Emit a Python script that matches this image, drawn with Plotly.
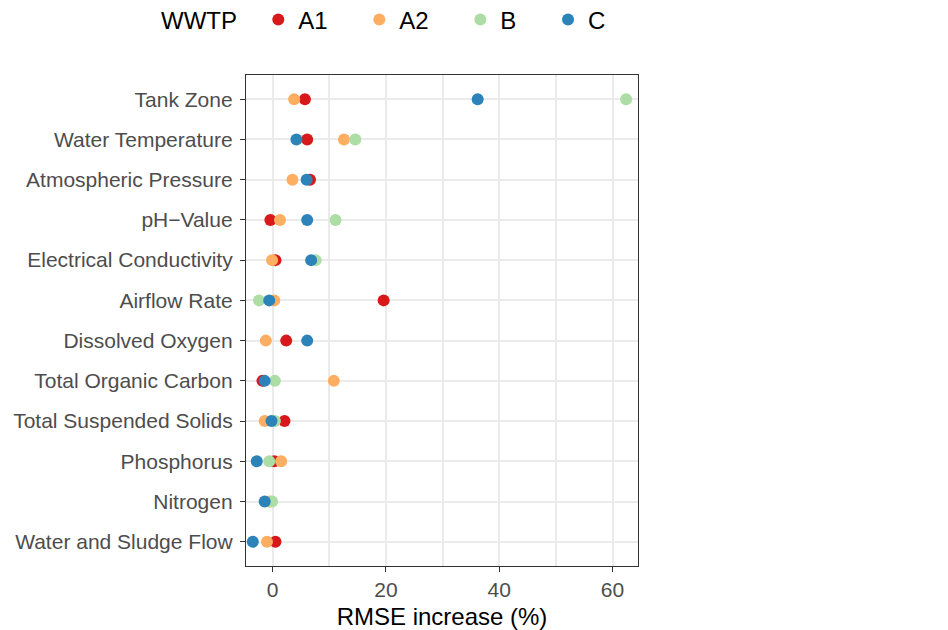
import plotly.graph_objects as go

variables = ["Tank Zone", "Water Temperature", "Atmospheric Pressure", "pH\u2212Value",
             "Electrical Conductivity", "Airflow Rate", "Dissolved Oxygen",
             "Total Organic Carbon", "Total Suspended Solids", "Phosphorus",
             "Nitrogen", "Water and Sludge Flow"]

wwtp_a1 = [5.7, 6.1, 6.6, -0.4, 0.5, 19.6, 2.4, -1.8, 2.1, 0.3, None, 0.5]
wwtp_a2 = [3.8, 12.6, 3.5, 1.3, -0.1, 0.3, -1.2, 10.8, -1.4, 1.5, -0.5, -1.0]
wwtp_b = [62.4, 14.6, None, 11.1, 7.6, -2.4, None, 0.4, 0.4, -0.6, -0.1, None]
wwtp_c = [36.2, 4.2, 6.0, 6.1, 6.8, -0.6, 6.1, -1.4, -0.2, -2.8, -1.4, -3.5]

series = [("A1", wwtp_a1, "#D7191C"), ("A2", wwtp_a2, "#FDAE61"),
          ("B", wwtp_b, "#ABDDA4"), ("C", wwtp_c, "#2B83BA")]

font_family = "Liberation Sans, Arial, Helvetica, sans-serif"
pad = "\u00a0" * 4

fig = go.Figure()
for name, vals, col in series:
    fig.add_trace(go.Scatter(
        x=vals, y=variables, mode="markers", name=name + pad,
        marker=dict(color=col, size=12, line=dict(width=0)),
    ))

fig.update_layout(
    width=948, height=630,
    margin=dict(l=246, r=310, t=75, b=64, autoexpand=False),
    paper_bgcolor="white", plot_bgcolor="white",
    font=dict(family=font_family, color="#000000"),
    showlegend=True,
    legend=dict(
        orientation="h", x=-0.222, xanchor="left", y=1.112, yanchor="middle",
        title=dict(text="WWTP\u00a0\u00a0", side="left", font=dict(size=24, color="#000000")),
        font=dict(size=24, color="#000000"),
        itemwidth=30,
    ),
    xaxis=dict(
        range=[-4.7, 64.5], tickvals=[0, 20, 40, 60],
        showgrid=True, gridcolor="#EBEBEB", gridwidth=2,
        minor=dict(tickvals=[10, 30, 50], showgrid=True, gridcolor="#EBEBEB", gridwidth=1.6, ticks=""),
        zeroline=False,
        showline=True, mirror=True, linecolor="#333333", linewidth=1.3,
        ticks="outside", ticklen=5, tickwidth=1.3, tickcolor="#333333",
        tickfont=dict(size=21, color="#4D4D4D"),
        title=dict(text="RMSE increase (%)", font=dict(size=24, color="#000000"), standoff=8),
    ),
    yaxis=dict(
        type="category", categoryorder="array", categoryarray=variables[::-1],
        range=[-0.6, 11.6],
        showgrid=True, gridcolor="#EBEBEB", gridwidth=2,
        zeroline=False,
        showline=True, mirror=True, linecolor="#333333", linewidth=1.3,
        ticks="outside", ticklen=5, tickwidth=1.3, tickcolor="#333333",
        tickfont=dict(size=21, color="#4D4D4D"),
        ticklabelstandoff=3,
    ),
)

fig.write_html("out.html")
